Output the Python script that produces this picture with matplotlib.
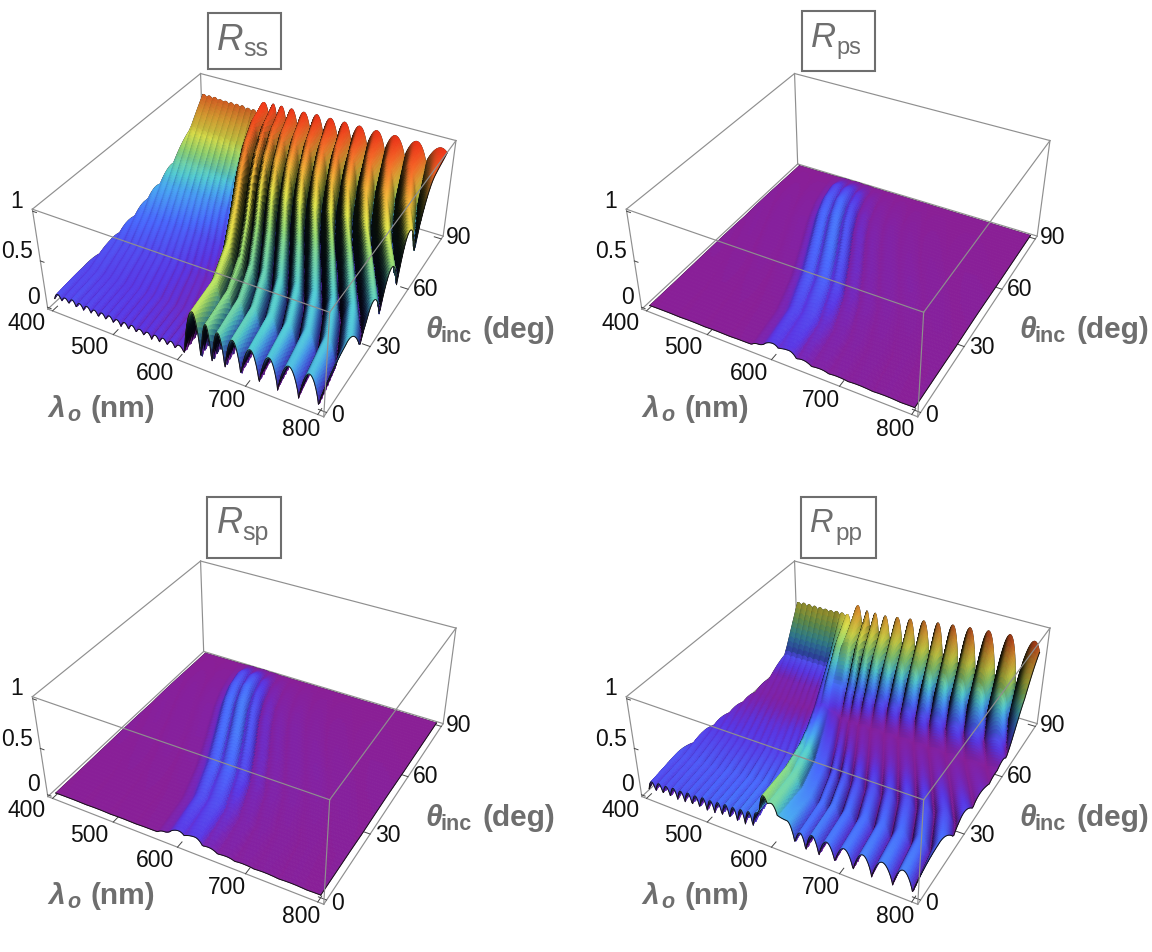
import numpy as np
import matplotlib
matplotlib.use("Agg")
import matplotlib.pyplot as plt
from matplotlib.colors import LinearSegmentedColormap
from matplotlib.patches import Rectangle

W, H = 1152, 952
FONT = "Liberation Sans"
GRAY = "#6e6e6e"

# angle rows of the tables, and how far the fringes have moved left at each row
theta_rows = [0, 15, 30, 45, 60, 70, 80, 90]
fringe_shift = [1.0, 0.989, 0.958, 0.915, 0.87, 0.845, 0.828, 0.82]

# fringe wavelengths at normal incidence: trough, peak, trough, peak ...
lam_main = [400, 406, 412, 418, 424, 430, 436, 442, 448, 454, 460, 466, 472, 478, 484, 490, 496,
            502, 508, 514, 520, 526, 532, 538, 544, 550, 556, 562, 568, 574, 580, 586, 592, 598,
            606, 620, 631, 639, 647, 656, 666, 677, 689, 702, 715, 728, 741, 755, 770, 783, 797,
            812, 828, 845, 862, 880, 900, 920, 940, 965, 990, 1010]
lam_cross = [400, 430, 450, 470, 490, 510, 530, 550, 565, 575, 585, 598, 606, 622, 633,
             642, 655, 668, 680, 692, 708, 722, 742, 760, 780, 800, 830, 870, 920, 1010]

rss = [
    [.08,.14,.08,.13,.08,.14,.07,.13,.07,.13,.07,.12,.06,.12,.06,.12,.06,.11,.05,.11,.05,.11,.05,.10,.05,.10,.04,.10,.04,.10,.04,.10,.04,.09,
     .02,.50,.03,.42,.02,.38,.02,.36,.02,.33,.01,.32,.01,.31,.01,.31,.01,.31,.02,.32,.02,.33,.02,.34,.02,.35,.02,.35],
    [.10,.13,.10,.13,.10,.13,.09,.12,.09,.12,.09,.12,.08,.11,.08,.11,.08,.11,.07,.10,.07,.10,.06,.09,.06,.09,.05,.08,.05,.08,.04,.07,.04,.07,
     .03,.50,.04,.43,.03,.39,.03,.36,.02,.34,.02,.33,.02,.32,.02,.32,.02,.32,.03,.33,.03,.34,.04,.35,.05,.35,.06,.36],
    [.12,.15,.12,.15,.12,.15,.11,.14,.11,.14,.11,.14,.10,.13,.10,.13,.10,.13,.09,.12,.09,.12,.08,.11,.07,.10,.06,.09,.06,.08,.05,.07,.04,.06,
     .03,.54,.05,.45,.04,.40,.04,.37,.03,.35,.03,.34,.03,.33,.03,.33,.03,.33,.04,.33,.05,.34,.08,.35,.11,.36,.12,.36],
    [.18,.21,.18,.21,.17,.20,.17,.20,.17,.20,.16,.19,.16,.19,.15,.18,.15,.18,.14,.17,.14,.17,.13,.16,.12,.15,.11,.14,.10,.13,.09,.12,.08,.10,
     .08,.62,.09,.50,.08,.45,.07,.43,.07,.42,.06,.41,.06,.41,.06,.41,.07,.41,.07,.42,.08,.42,.10,.43,.12,.44,.14,.44],
    [.28,.31,.28,.31,.27,.30,.27,.30,.27,.30,.26,.29,.26,.29,.25,.28,.25,.28,.24,.27,.23,.26,.23,.26,.22,.25,.21,.24,.20,.23,.18,.21,.16,.19,
     .18,.72,.17,.62,.15,.58,.14,.56,.13,.55,.13,.55,.13,.55,.13,.55,.13,.55,.13,.56,.14,.56,.14,.57,.15,.57,.16,.58],
    [.40,.43,.40,.43,.39,.42,.39,.42,.38,.41,.38,.41,.37,.40,.37,.40,.36,.39,.36,.39,.35,.38,.34,.37,.33,.36,.32,.35,.31,.34,.29,.32,.27,.30,
     .30,.80,.28,.72,.25,.69,.22,.68,.21,.68,.20,.68,.20,.68,.20,.68,.20,.68,.20,.68,.20,.69,.21,.69,.22,.70,.22,.70],
    [.58,.60,.58,.60,.57,.60,.57,.60,.57,.59,.56,.59,.56,.58,.55,.58,.55,.58,.54,.57,.54,.57,.53,.56,.53,.56,.52,.55,.51,.54,.49,.52,.47,.50,
     .48,.88,.44,.84,.42,.82,.40,.82,.38,.82,.37,.82,.36,.82,.36,.82,.36,.82,.36,.82,.36,.82,.36,.83,.37,.83,.38,.84],
    [.82,.84,.82,.84,.82,.84,.81,.83,.81,.83,.81,.83,.81,.83,.81,.83,.80,.83,.80,.83,.80,.82,.80,.82,.79,.82,.79,.82,.79,.82,.78,.81,.78,.81,
     .74,.92,.74,.93,.74,.93,.74,.93,.74,.93,.74,.94,.74,.94,.74,.94,.74,.94,.74,.94,.74,.94,.74,.94,.74,.94,.74,.94],
]

rpp = [
    [.05,.14,.05,.15,.05,.15,.05,.16,.05,.16,.05,.17,.05,.17,.05,.18,.05,.18,.06,.19,.06,.20,.06,.20,.06,.21,.07,.22,.07,.24,.30,.45,.38,.40,
     .30,.28,.07,.20,.03,.22,.03,.21,.03,.21,.02,.22,.02,.22,.02,.22,.02,.23,.02,.24,.02,.25,.03,.26,.03,.27,.03,.27],
    [.10,.15,.10,.15,.10,.15,.10,.16,.10,.16,.10,.16,.10,.16,.11,.17,.11,.17,.11,.17,.11,.18,.12,.18,.12,.19,.12,.19,.14,.22,.28,.42,.36,.38,
     .25,.22,.06,.19,.03,.20,.02,.19,.02,.19,.02,.19,.02,.19,.02,.19,.02,.20,.02,.20,.02,.21,.02,.22,.02,.23,.02,.23],
    [.09,.12,.09,.12,.09,.12,.09,.12,.09,.12,.09,.12,.09,.12,.09,.12,.09,.12,.09,.12,.09,.13,.10,.13,.10,.13,.10,.14,.10,.16,.20,.33,.30,.33,
     .20,.17,.04,.15,.02,.15,.02,.14,.015,.14,.015,.14,.01,.14,.01,.14,.01,.14,.01,.14,.01,.15,.01,.15,.01,.16,.02,.16],
    [.06,.08,.06,.08,.06,.08,.06,.08,.06,.08,.06,.08,.06,.09,.06,.09,.06,.09,.06,.09,.07,.09,.07,.09,.07,.10,.07,.10,.07,.10,.12,.20,.21,.23,
     .16,.12,.03,.09,.01,.08,.01,.07,.01,.07,.01,.07,.01,.07,.01,.07,.01,.07,.01,.07,.01,.07,.01,.08,.01,.08,.01,.08],
    [.02,.04,.02,.04,.02,.04,.02,.04,.02,.04,.02,.04,.02,.04,.02,.04,.015,.035,.015,.035,.015,.035,.015,.03,.01,.03,.01,.03,.01,.03,.05,.10,.10,.12,
     .10,.07,.01,.04,.005,.03,.005,.03,.005,.025,.005,.025,.005,.025,.005,.025,.005,.025,.005,.025,.005,.025,.005,.03,.005,.03,.005,.04],
    [.03,.05,.03,.05,.03,.05,.03,.05,.03,.05,.03,.05,.03,.05,.03,.05,.03,.05,.03,.05,.03,.06,.03,.06,.03,.06,.03,.06,.03,.06,.08,.14,.18,.24,
     .20,.20,.05,.18,.03,.17,.02,.16,.02,.15,.02,.15,.02,.15,.02,.15,.02,.15,.02,.15,.02,.15,.02,.15,.02,.16,.03,.17],
    [.13,.15,.13,.15,.13,.15,.13,.15,.13,.15,.13,.15,.13,.15,.13,.15,.13,.15,.13,.15,.13,.15,.13,.15,.13,.15,.13,.15,.13,.15,.20,.30,.34,.45,
     .40,.50,.12,.48,.10,.45,.10,.44,.10,.42,.10,.42,.10,.42,.10,.42,.10,.42,.10,.42,.10,.43,.10,.44,.11,.45,.12,.46],
    [.56,.60,.56,.60,.56,.60,.56,.60,.56,.60,.56,.60,.57,.60,.57,.60,.57,.61,.57,.61,.57,.61,.57,.61,.58,.61,.58,.61,.58,.62,.58,.62,.58,.62,
     .40,.75,.34,.72,.32,.72,.30,.72,.30,.74,.30,.76,.30,.78,.30,.80,.30,.82,.30,.84,.30,.86,.30,.88,.30,.88,.30,.88],
]

rps = [
    [.002,.005,.002,.006,.002,.006,.003,.008,.01,.04,.07,.11,.08,.10,.04,.055,.02,.03,.012,.02,.01,.016,.006,.012,.004,.008,.003,.005,.002,.004],
    [.002,.006,.003,.007,.003,.008,.003,.01,.015,.05,.08,.13,.09,.13,.06,.08,.025,.04,.014,.025,.01,.018,.006,.012,.004,.008,.003,.005,.002,.004],
    [.003,.008,.004,.01,.004,.012,.005,.015,.02,.06,.11,.16,.09,.17,.08,.13,.03,.06,.015,.035,.012,.025,.01,.018,.006,.012,.004,.008,.003,.005],
    [.004,.01,.005,.012,.006,.015,.008,.02,.02,.06,.12,.18,.09,.20,.08,.15,.03,.07,.015,.04,.012,.03,.012,.025,.008,.015,.005,.01,.003,.006],
    [.004,.01,.005,.012,.006,.015,.008,.02,.02,.06,.12,.18,.09,.20,.08,.15,.03,.07,.015,.04,.012,.03,.01,.02,.006,.012,.004,.008,.003,.005],
    [.003,.008,.004,.01,.005,.012,.006,.016,.015,.05,.10,.16,.08,.18,.07,.13,.025,.06,.015,.03,.012,.025,.008,.016,.005,.01,.003,.006,.002,.004],
    [.002,.005,.002,.006,.003,.007,.004,.01,.01,.03,.07,.12,.06,.12,.05,.09,.02,.04,.01,.02,.008,.015,.005,.01,.003,.006,.002,.004,.001,.002],
    [.001,.002,.001,.002,.001,.002,.001,.003,.002,.004,.006,.01,.005,.012,.004,.008,.002,.004,.002,.003,.002,.003,.002,.003,.001,.002,.001,.002,.001,.001],
]

rsp = [
    [.002,.005,.002,.006,.002,.006,.003,.008,.01,.04,.07,.11,.08,.11,.045,.055,.02,.03,.012,.02,.01,.016,.006,.012,.004,.008,.003,.005,.002,.004],
    [.002,.006,.003,.007,.003,.008,.003,.01,.015,.05,.08,.14,.09,.14,.06,.08,.025,.04,.014,.025,.01,.018,.006,.012,.004,.008,.003,.005,.002,.004],
    [.003,.008,.004,.01,.004,.012,.005,.015,.02,.06,.11,.17,.09,.18,.08,.13,.03,.06,.015,.035,.012,.025,.01,.018,.006,.012,.004,.008,.003,.005],
    [.004,.01,.005,.012,.006,.015,.008,.02,.02,.06,.12,.19,.09,.21,.08,.15,.03,.07,.015,.04,.012,.03,.012,.025,.008,.015,.005,.01,.003,.006],
    [.004,.01,.005,.012,.006,.015,.008,.02,.02,.06,.12,.19,.09,.21,.08,.15,.03,.07,.015,.04,.012,.03,.01,.02,.006,.012,.004,.008,.003,.005],
    [.003,.008,.004,.01,.005,.012,.006,.016,.015,.05,.10,.17,.08,.19,.07,.13,.025,.06,.015,.03,.012,.025,.008,.016,.005,.01,.003,.006,.002,.004],
    [.002,.005,.002,.006,.003,.007,.004,.01,.01,.03,.07,.13,.06,.13,.05,.09,.02,.04,.01,.02,.008,.015,.005,.01,.003,.006,.002,.004,.001,.002],
    [.001,.002,.001,.002,.001,.002,.001,.003,.002,.004,.006,.01,.005,.012,.004,.008,.002,.004,.002,.003,.002,.003,.002,.003,.001,.002,.001,.002,.001,.001],
]

lam_ticks = [400, 500, 600, 700, 800]
theta_ticks = [0, 30, 60, 90]
r_ticks = [0, 0.5, 1]
lam_tick_text = ["400", "500", "600", "700", "800"]
theta_tick_text = ["0", "30", "60", "90"]
r_tick_text = ["0", "0.5", "1"]

surfaces = [rss, rps, rsp, rpp]
columns = [lam_main, lam_cross, lam_cross, lam_main]
subscripts = ["ss", "ps", "sp", "pp"]
offsets = [(0, 0), (594, 0), (0, 487.5), (594, 487.5)]

# frame (x0, y0, x1, y1), R (x, baseline, size), subscript (x, baseline, size)
title_frames = [(207.5, 13, 280.5, 69), (801.7, 10.7, 875, 70.7), (207.3, 497.3, 280.7, 557.7), (800.7, 497.3, 875.7, 557.7)]
title_r = [(217, 50, 26.5), (811, 46.7, 25), (217, 532.7, 26), (810, 531.7, 23.5)]
title_sub = [(243, 56, 18), (836.5, 54, 17), (242.5, 540, 18), (835, 540, 17.5)]

height_colors = LinearSegmentedColormap.from_list("height", [
    (0.0, "#8a1f96"), (0.05, "#7a25b4"), (0.1, "#5a38e6"), (0.18, "#4a6aff"), (0.27, "#4aa8f5"),
    (0.33, "#55d0d8"), (0.45, "#9ae27a"), (0.55, "#e8ee50"), (0.68, "#fbb83a"), (0.82, "#fb6a28"),
    (0.92, "#f53a1a"), (1.0, "#e02a14")])


def fig_xy(x, y):
    return x / W, 1 - y / H


def refine(table, lam0, n_lam, n_theta):
    # a fine mesh through the read values so the colours run smoothly over each cell
    table = np.array(table)
    lam0 = np.array(lam0, dtype=float)
    lam = np.linspace(400, 800, n_lam)
    theta = np.linspace(0, 90, n_theta)
    Z = np.zeros((n_theta, n_lam))
    col_idx = np.arange(len(lam0))
    for j, t in enumerate(theta):
        row = np.array([np.interp(t, theta_rows, table[:, k]) for k in col_idx])
        pos = lam0 * np.interp(t, theta_rows, fringe_shift)
        c = np.interp(lam, pos, col_idx)
        i = np.minimum(np.floor(c).astype(int), len(lam0) - 2)
        u = c - i
        # sharp troughs, round peaks
        ease = np.where(i % 2 == 0, np.sin(u * np.pi / 2) ** 0.78, 1 - np.cos(u * np.pi / 2) ** 0.78)
        Z[j] = row[i] + (row[i + 1] - row[i]) * ease
    return lam, theta, Z


def shaded_colors(lam, theta, Z):
    dzdy, dzdx = np.gradient(Z * 0.802 / 1.04, theta * 1.995 / 93.6, lam * 2 / 416)
    rising = np.clip(dzdx, 0, None)
    falling = np.clip(-dzdx, 0, None)
    shade = 1 / (1 + (rising / 3.5) ** 3) / (1 + (falling / 12) ** 2) / (1 + (dzdy / 2) ** 2)
    shade = np.clip(shade, 0.06, 1)
    rgba = height_colors(np.clip(Z, 0, 1))
    rgba[..., :3] = rgba[..., :3] * shade[..., None]
    return rgba


def box_line(ax, a, b, z):
    ax.plot([a[0], b[0]], [a[1], b[1]], [a[2], b[2]], color="#8f8f8f", lw=0.85, zorder=z)


def draw_panel(n):
    dx, dy = offsets[n]
    left, bottom, size = -26.2 + dx, 447.6 - dy, 546.55
    ax = fig.add_axes([left / W, bottom / H, size / W, size / H], projection="3d",
                      elev=36.11, azim=-61.49)
    ax.set_proj_type("persp", focal_length=0.35)
    ax.set_box_aspect((1, 0.9975, 0.401), zoom=0.7855)
    ax.set_xlim(392, 808)
    ax.set_ylim(-1.8, 91.8)
    ax.set_zlim(-0.02, 1.02)
    ax.set_axis_off()
    ax.patch.set_visible(False)
    ax.computed_zorder = False

    x0, x1, y0, y1, z0, z1 = 392, 808, -1.8, 91.8, -0.02, 1.02
    for a, b in [((x0, y1, z0), (x0, y1, z1)), ((x0, y1, z1), (x1, y1, z1)), ((x0, y0, z1), (x0, y1, z1)),
                 ((x0, y0, z0), (x0, y0, z1)), ((x1, y1, z0), (x1, y1, z1)), ((x0, y0, z0), (x1, y0, z0)),
                 ((x1, y0, z0), (x1, y1, z0)), ((x0, y0, z0), (x0, y1, z0)), ((x0, y1, z0), (x1, y1, z0))]:
        box_line(ax, a, b, 1)
    for l in lam_ticks:
        ax.plot([l, l], [y0, y0 + 2.5], [z0, z0], color="#444444", lw=0.7, zorder=1.2)
    for t in theta_ticks:
        ax.plot([x1, x1 - 11], [t, t], [z0, z0], color="#444444", lw=0.7, zorder=1.2)
    for r in r_ticks:
        ax.plot([x0, x0 + 6], [y0, y0], [r, r], color="#444444", lw=0.7, zorder=1.2)

    fine = (360, 100) if columns[n] is lam_main else (240, 60)
    lam, theta, Z = refine(surfaces[n], columns[n], *fine)
    LL, TT = np.meshgrid(lam, theta)
    edge = dict(color="#151515", lw=0.7)
    ax.plot(lam, [90] * len(lam), Z[-1], zorder=1.5, **edge)
    ax.plot([400] * len(theta), theta, Z[:, 0], zorder=1.5, **edge)
    ax.plot_surface(LL, TT, Z, facecolors=shaded_colors(lam, theta, Z), shade=False,
                    rcount=fine[1], ccount=fine[0], linewidth=0.5, antialiased=True, zorder=2)
    ax.plot(lam, [0] * len(lam), Z[0], zorder=3, **edge)
    ax.plot([800] * len(theta), theta, Z[:, -1], zorder=3, **edge)

    for a, b in [((x0, y0, z1), (x1, y0, z1)), ((x1, y0, z1), (x1, y1, z1)), ((x1, y0, z0), (x1, y0, z1))]:
        box_line(ax, a, b, 4)

    # tick labels
    lam_xy = [(27, 323), (89, 348), (155, 373), (227, 400), (301, 429)]
    theta_xy = [(338, 416), (388, 348), (426, 289), (459, 238)]
    r_xy = [(33, 297), (17, 252), (17, 201)]
    for text, (x, y) in zip(lam_tick_text + theta_tick_text + r_tick_text, lam_xy + theta_xy + r_xy):
        fx, fy = fig_xy(x + dx, y + dy)
        fig.text(fx, fy, text, family=FONT, fontsize=16.5, color="#111111", ha="center", va="center")

    # axis titles, written in pieces like the reference
    pieces = [("\u03bb", 48, 417, 21.5, "italic"), ("o", 67, 421, 15.5, "italic"), ("(nm)", 90, 417, 21.5, "normal"),
              ("\u03b8", 425, 338, 21.5, "italic"), ("inc", 440, 342, 15.5, "normal"), ("(deg)", 482, 338, 21.5, "normal")]
    for text, x, y, size_pt, style in pieces:
        fx, fy = fig_xy(x + dx, y + dy)
        fig.text(fx, fy, text, family=FONT, fontsize=size_pt, style=style, weight="bold", color=GRAY,
                 ha="left", va="baseline")

    # panel title in its frame
    x_a, y_a, x_b, y_b = title_frames[n]
    fx, fy = fig_xy(x_a, y_b)
    fig.add_artist(Rectangle((fx, fy), (x_b - x_a) / W, (y_b - y_a) / H, transform=fig.transFigure,
                             fill=False, edgecolor=GRAY, lw=1.5))
    x, y, size_pt = title_r[n]
    fx, fy = fig_xy(x, y)
    fig.text(fx, fy, "R", family=FONT, fontsize=size_pt, style="italic", color=GRAY, ha="left", va="baseline")
    x, y, size_pt = title_sub[n]
    fx, fy = fig_xy(x, y)
    fig.text(fx, fy, subscripts[n], family=FONT, fontsize=size_pt, color=GRAY, ha="left", va="baseline")


fig = plt.figure(figsize=(W / 100, H / 100), dpi=100)
for n in range(4):
    draw_panel(n)
fig.savefig("out.png", dpi=100)
